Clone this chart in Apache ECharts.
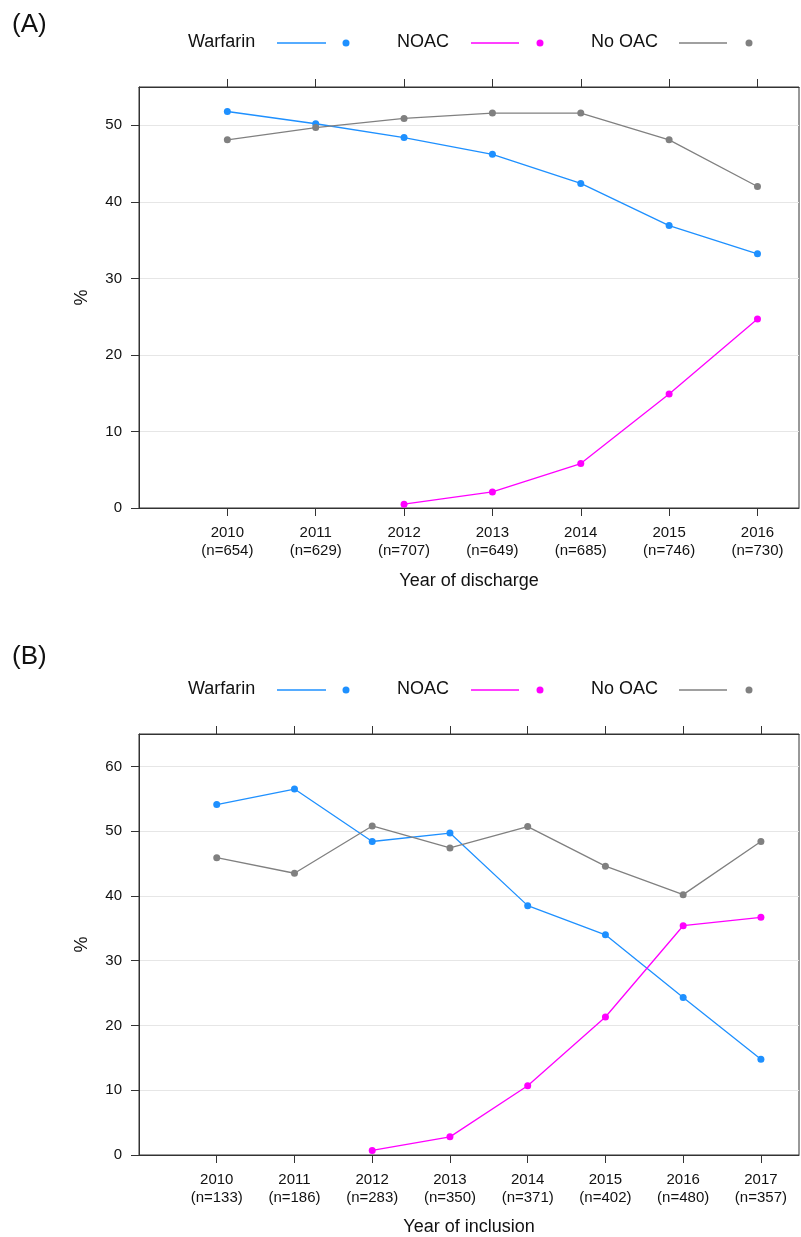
<!DOCTYPE html>
<html>
<head>
<meta charset="utf-8">
<script src="https://cdn.jsdelivr.net/npm/echarts@6/dist/echarts.min.js"></script>
<style>
html,body{margin:0;padding:0;background:#fff;}
#chart{width:801px;height:1237px;}
</style>
</head>
<body>
<div id="chart"></div>
<script>
// ---- Data ----
var seriesNames = ['Warfarin', 'NOAC', 'No OAC'];
var yearsA = [2010, 2011, 2012, 2013, 2014, 2015, 2016];
var nA = [654, 629, 707, 649, 685, 746, 730];
var warfarinA = [51.8, 50.2, 48.4, 46.2, 42.4, 36.9, 33.2];
var noacA = [null, null, 0.5, 2.1, 5.8, 14.9, 24.7];
var noOacA = [48.1, 49.7, 50.9, 51.6, 51.6, 48.1, 42.0];

var yearsB = [2010, 2011, 2012, 2013, 2014, 2015, 2016, 2017];
var nB = [133, 186, 283, 350, 371, 402, 480, 357];
var warfarinB = [54.1, 56.5, 48.4, 49.7, 38.5, 34.0, 24.3, 14.8];
var noacB = [null, null, 0.7, 2.8, 10.7, 21.3, 35.4, 36.7];
var noOacB = [45.9, 43.5, 50.8, 47.4, 50.7, 44.6, 40.2, 48.4];

var yTicksA = [0, 10, 20, 30, 40, 50];
var yTicksB = [0, 10, 20, 30, 40, 50, 60];

var titleA = 'Year of discharge';
var titleB = 'Year of inclusion';
var panelLabels = ['(A)', '(B)'];

// ---- Styles ----
var colors = ['#1E90FF', '#FF00FF', '#808080'];
var FONT = 'Liberation Sans, Arial, sans-serif';
var AXIS_COLOR = '#333';

function pairs(xs, ys) {
  var out = [];
  for (var i = 0; i < xs.length; i++) {
    if (ys[i] !== null && ys[i] !== undefined) out.push([xs[i], ys[i]]);
  }
  return out;
}

function makeLabelFn(xs, ns) {
  return function (v) {
    var i = xs.indexOf(Math.round(v));
    if (i < 0) return '';
    return xs[i] + '\n(n=' + ns[i] + ')';
  };
}

function bottomX(gridIndex, xs, ns, xmax, name, gap) {
  return {
    type: 'value', gridIndex: gridIndex, position: 'bottom',
    min: xs[0] - 1, max: xmax, interval: 1,
    axisLine: { show: true, lineStyle: { color: AXIS_COLOR, width: 1 } },
    axisTick: { show: true, inside: false, length: 8, customValues: xs, lineStyle: { color: AXIS_COLOR } },
    axisLabel: { show: true, customValues: xs, formatter: makeLabelFn(xs, ns), color: '#111', fontSize: 15, lineHeight: 18, margin: 16, fontFamily: FONT },
    splitLine: { show: false },
    name: name, nameLocation: 'middle', nameGap: gap,
    nameTextStyle: { fontSize: 18, color: '#111', fontFamily: FONT }
  };
}

function topX(gridIndex, xs, xmax) {
  return {
    type: 'value', gridIndex: gridIndex, position: 'top',
    min: xs[0] - 1, max: xmax, interval: 1,
    axisLine: { show: true, lineStyle: { color: AXIS_COLOR, width: 1 } },
    axisTick: { show: true, inside: false, length: 8, customValues: xs, lineStyle: { color: AXIS_COLOR } },
    axisLabel: { show: false },
    splitLine: { show: false }
  };
}

function leftY(gridIndex, ticks, ymax) {
  return {
    type: 'value', gridIndex: gridIndex, position: 'left',
    min: 0, max: ymax, interval: 10,
    axisLine: { show: true, lineStyle: { color: AXIS_COLOR, width: 1 } },
    axisTick: { show: true, inside: false, length: 8, customValues: ticks, lineStyle: { color: AXIS_COLOR } },
    axisLabel: { show: true, customValues: ticks, color: '#111', fontSize: 15, margin: 17, fontFamily: FONT },
    splitLine: { show: true, lineStyle: { color: '#e6e6e6', width: 1 } },
    name: '%', nameLocation: 'middle', nameGap: 48,
    nameTextStyle: { fontSize: 18, color: '#111', fontFamily: FONT }
  };
}

function lineSeries(name, xAxisIndex, yAxisIndex, data, color) {
  return {
    type: 'line', name: name, xAxisIndex: xAxisIndex, yAxisIndex: yAxisIndex,
    data: data, symbol: 'circle', symbolSize: 7, showSymbol: true,
    lineStyle: { color: color, width: 1.3 },
    itemStyle: { color: color },
    connectNulls: false, animation: false, z: 3
  };
}

function legendGraphics(cy) {
  var items = [
    { text: seriesNames[0], tx: 188, lx0: 277, lx1: 326, dx: 346 },
    { text: seriesNames[1], tx: 397, lx0: 471, lx1: 519, dx: 540 },
    { text: seriesNames[2], tx: 591, lx0: 679, lx1: 727, dx: 749 }
  ];
  var g = [];
  items.forEach(function (it, i) {
    g.push({ type: 'text', left: it.tx, top: cy - 10, style: { text: it.text, fontSize: 18, fontFamily: FONT, fill: '#111' } });
    g.push({ type: 'line', shape: { x1: it.lx0, y1: cy, x2: it.lx1, y2: cy }, style: { stroke: colors[i], lineWidth: 1.3 } });
    g.push({ type: 'circle', shape: { cx: it.dx, cy: cy, r: 3.5 }, style: { fill: colors[i] } });
  });
  return g;
}

var graphics = []
  .concat([{ type: 'text', left: 12, top: 12, style: { text: panelLabels[0], fontSize: 26, fontFamily: FONT, fill: '#111' } }])
  .concat([{ type: 'text', left: 12, top: 644, style: { text: panelLabels[1], fontSize: 26, fontFamily: FONT, fill: '#111' } }])
  .concat(legendGraphics(43))
  .concat(legendGraphics(690));

var option = {
  backgroundColor: '#fff',
  animation: false,
  textStyle: { fontFamily: FONT },
  grid: [
    { left: 139, top: 87, width: 660, height: 421, show: true, borderColor: AXIS_COLOR, borderWidth: 1, backgroundColor: 'transparent', containLabel: false },
    { left: 139, top: 734, width: 660, height: 421, show: true, borderColor: AXIS_COLOR, borderWidth: 1, backgroundColor: 'transparent', containLabel: false }
  ],
  xAxis: [
    bottomX(0, yearsA, nA, 2016.47, titleA, 64),
    topX(0, yearsA, 2016.47),
    bottomX(1, yearsB, nB, 2017.49, titleB, 63),
    topX(1, yearsB, 2017.49)
  ],
  yAxis: [
    leftY(0, yTicksA, 55),
    leftY(1, yTicksB, 65)
  ],
  series: [
    lineSeries(seriesNames[0], 0, 0, pairs(yearsA, warfarinA), colors[0]),
    lineSeries(seriesNames[1], 0, 0, pairs(yearsA, noacA), colors[1]),
    lineSeries(seriesNames[2], 0, 0, pairs(yearsA, noOacA), colors[2]),
    lineSeries(seriesNames[0], 2, 1, pairs(yearsB, warfarinB), colors[0]),
    lineSeries(seriesNames[1], 2, 1, pairs(yearsB, noacB), colors[1]),
    lineSeries(seriesNames[2], 2, 1, pairs(yearsB, noOacB), colors[2])
  ],
  graphic: graphics
};

var chart = echarts.init(document.getElementById('chart'), null, { renderer: 'canvas' });
chart.setOption(option);
</script>
</body>
</html>
